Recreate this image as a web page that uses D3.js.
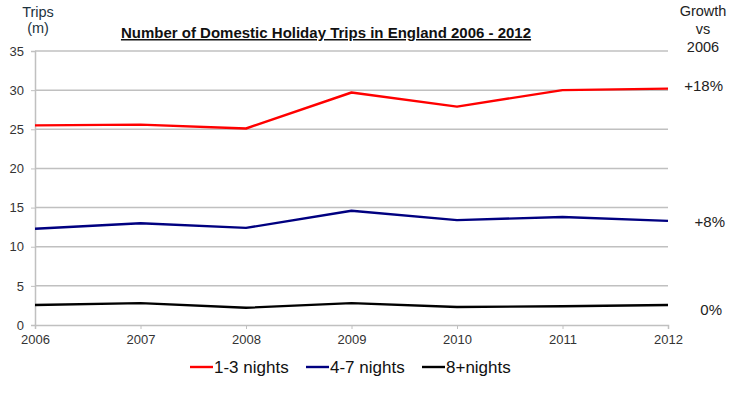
<!DOCTYPE html>
<html><head><meta charset="utf-8">
<script src="https://cdn.jsdelivr.net/npm/d3@7"></script>
<style>body{margin:0;background:#fff;font-family:"Liberation Sans",Arial,sans-serif}</style>
</head><body><svg id="c" width="754" height="393"></svg>
<script>
const years = [2006, 2007, 2008, 2009, 2010, 2011, 2012];
const short = [25.5, 25.6, 25.1, 29.7, 27.9, 30.0, 30.2];
const medium = [12.3, 13.0, 12.4, 14.6, 13.4, 13.8, 13.3];
const long = [2.55, 2.8, 2.2, 2.8, 2.3, 2.4, 2.55];
const seriesNames = ["1-3 nights", "4-7 nights", "8+nights"];
const growth = ["+18%", "+8%", "0%"];
const yTicks = [0, 5, 10, 15, 20, 25, 30, 35];
const colors = ["#ff0000", "#000080", "#000000"];
const seriesData = [short, medium, long];

const svg = d3.select("#c");
const x = d3.scalePoint().domain(years).range([35, 668]);
const y = d3.scaleLinear().domain([0, 35]).range([325, 51]);
const txt = "#333";

// gridlines
svg.append("g").selectAll("line").data(yTicks.filter(d => d > 0)).join("line")
  .attr("x1", 35).attr("x2", 668).attr("y1", d => y(d)).attr("y2", d => y(d))
  .attr("stroke", "#c0c0c0").attr("stroke-width", 1.5);

// y axis
const ya = svg.append("g").attr("transform", "translate(35,0)")
  .call(d3.axisLeft(y).tickValues(yTicks).tickSize(4).tickPadding(7));
ya.select(".domain").attr("stroke", "#c0c0c0").attr("stroke-width", 1.5);
ya.selectAll(".tick line").attr("stroke", "#c0c0c0");
ya.selectAll("text").attr("font-size", 13).attr("fill", txt).attr("font-family", "Liberation Sans, Arial, sans-serif");

// x axis
const xa = svg.append("g").attr("transform", "translate(0,325)")
  .call(d3.axisBottom(x).tickSize(4).tickPadding(6).tickFormat(d3.format("d")));
xa.select(".domain").attr("stroke", "#c0c0c0").attr("stroke-width", 1.5);
xa.selectAll(".tick line").attr("stroke", "#c0c0c0");
xa.selectAll("text").attr("font-size", 13).attr("fill", txt).attr("font-family", "Liberation Sans, Arial, sans-serif");

// lines
const line = d3.line().x((d, i) => x(years[i])).y(d => y(d));
seriesData.forEach((s, i) => {
  svg.append("path").datum(s).attr("d", line).attr("fill", "none")
    .attr("stroke", colors[i]).attr("stroke-width", 2.4).attr("stroke-linejoin", "round");
});

// title
svg.append("text").attr("x", 326).attr("y", 38).attr("text-anchor", "middle")
  .attr("font-size", 15).attr("font-weight", "bold").attr("fill", "#111")
  .attr("text-decoration", "underline")
  .text("Number of Domestic Holiday Trips in England 2006 - 2012");

// left label
[["Trips", 17], ["(m)", 33]].forEach(([t, yy]) => {
  svg.append("text").attr("x", 38).attr("y", yy).attr("text-anchor", "middle")
    .attr("font-size", 14.5).attr("fill", "#1d3340").text(t);
});
// right label
[["Growth", 16], ["vs", 34], ["2006", 52]].forEach(([t, yy]) => {
  svg.append("text").attr("x", 703).attr("y", yy).attr("text-anchor", "middle")
    .attr("font-size", 14.5).attr("fill", "#222").text(t);
});
// growth labels
const gy = [91, 227, 315];
const gx = [723, 725, 722];
growth.forEach((g, i) => {
  svg.append("text").attr("x", gx[i]).attr("y", gy[i]).attr("text-anchor", "end")
    .attr("font-size", 15).attr("fill", "#222").text(g);
});

// legend
const lx = [190, 306, 422];
seriesNames.forEach((n, i) => {
  svg.append("line").attr("x1", lx[i]).attr("x2", lx[i] + 23).attr("y1", 367).attr("y2", 367)
    .attr("stroke", colors[i]).attr("stroke-width", 2.4);
  svg.append("text").attr("x", lx[i] + 24).attr("y", 373).attr("font-size", 17)
    .attr("fill", "#111").text(n);
});
</script></body></html>
